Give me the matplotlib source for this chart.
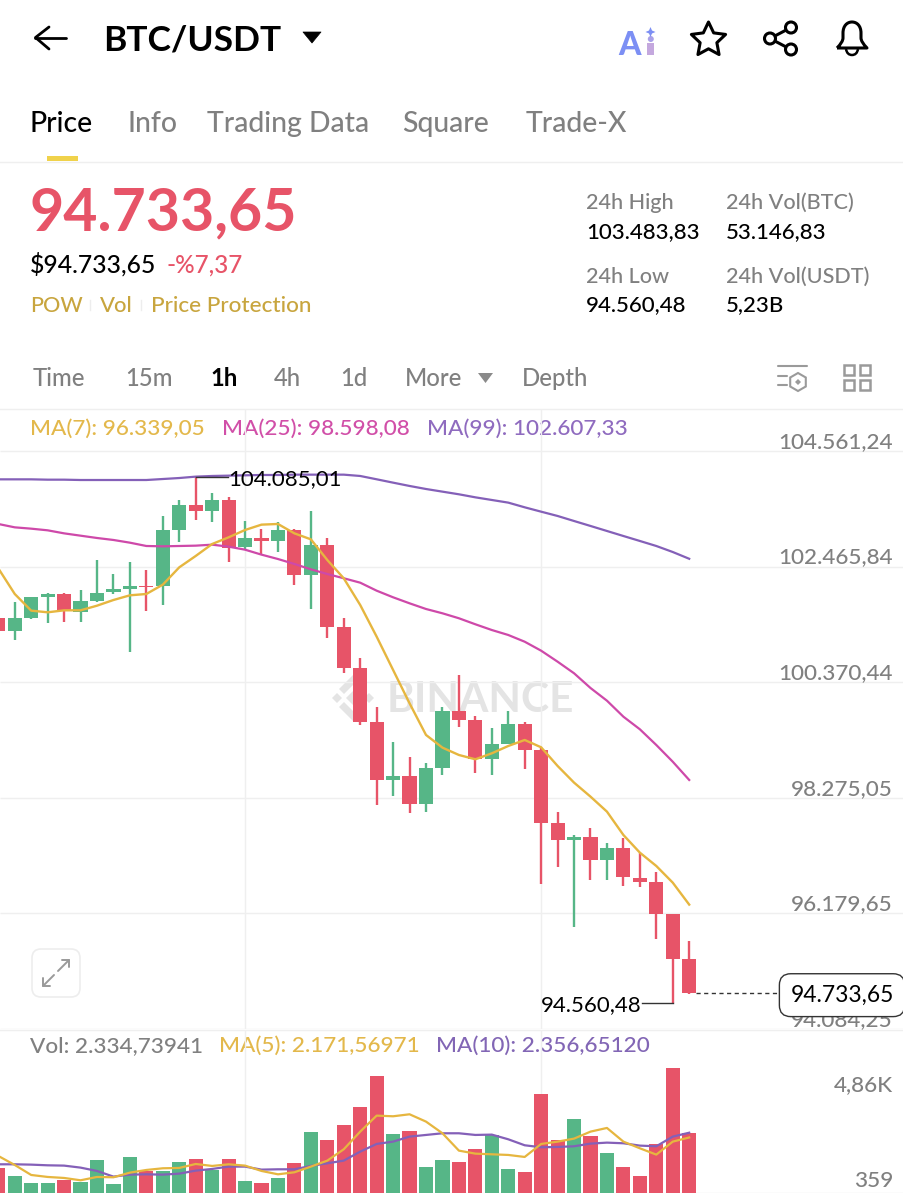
import numpy as np
import matplotlib
matplotlib.use("Agg")
import matplotlib.pyplot as plt
from matplotlib.patches import FancyBboxPatch, Polygon, Rectangle, Circle, PathPatch
from matplotlib.path import Path

plt.rcParams["font.family"] = ["Lato", "DejaVu Sans"]

# candles
opens = [101528, 101292, 101540, 101914, 101969, 101643, 101842, 101999, 102059, 102120, 102114,
         103129, 103582, 103467, 103673, 102815, 102984, 102930, 103135, 102319, 102863, 101371,
         100622, 99655, 98592, 98670, 98163, 98815, 99843, 99679, 98973, 99250, 99613, 99136,
         97818, 97516, 97559, 97148, 97365, 96828, 96743, 96163, 95347]
closes = [101298, 101528, 101908, 101963, 101667, 101842, 101993, 102053, 102120, 102090, 103123,
          103582, 103467, 103673, 102809, 102978, 102930, 103129, 102319, 102857, 101377, 100628,
          99655, 98592, 98670, 98157, 98809, 99843, 99685, 98973, 99244, 99613, 99136, 97818,
          97516, 97559, 97148, 97365, 96840, 96749, 96163, 95353, 94733.65]
highs = [101528, 101830, 101908, 101981, 101981, 102035, 102591, 102325, 102555, 102398, 103389,
         103667, 104085.01, 103800, 103721, 103286, 103141, 103268, 103153, 103467, 102990, 101528,
         100803, 99915, 99287, 99021, 98900, 99927, 100495, 99764, 99540, 99855, 99643, 99172,
         98024, 97607, 97734, 97462, 97547, 97281, 96936, 96163, 95686]
lows = [101298, 101135, 101510, 101437, 101455, 101461, 101824, 101969, 100918, 101655, 101763,
        102905, 103304, 103268, 102543, 102766, 102694, 102730, 102138, 101691, 101177, 100543,
        99601, 98139, 98308, 97994, 98018, 98695, 99565, 98719, 98695, 99250, 98797, 96707,
        97015, 95927, 96779, 96785, 96677, 96664, 95710, 94560.48, 94719]

ma7 = [102434, 101969, 101667, 101637, 101673, 101673, 101757, 101860, 101945, 101969, 102138,
       102452, 102658, 102875, 102996, 103129, 103226, 103238, 103068, 102960, 102585, 102253,
       101770, 101196, 100592, 99988, 99414, 99184, 99051, 98973, 99081, 99214, 99323, 99190,
       98852, 98550, 98296, 98024, 97601, 97281, 97039, 96737, 96339.05]
ma25 = [103238, 103177, 103153, 103123, 103068, 103026, 102984, 102948, 102899, 102839, 102833,
        102839, 102845, 102863, 102827, 102772, 102682, 102603, 102513, 102416, 102331, 102254,
        102174, 102029, 101909, 101800, 101697, 101619, 101529, 101420, 101316, 101226, 101104,
        100941, 100742, 100532, 100265, 100035, 99745, 99517, 99232, 98929, 98598.08]
ma99 = [104047, 104047, 104047, 104041, 104041, 104035, 104035, 104035, 104035, 104035, 104053,
        104071, 104096, 104108, 104114, 104120, 104126, 104126, 104132, 104132, 104132, 104132,
        104108, 104048, 103987, 103927, 103872, 103824, 103776, 103721, 103673, 103625, 103540,
        103461, 103383, 103292, 103202, 103111, 103020, 102930, 102839, 102730, 102607.33]

volumes = [973, 674, 415, 389, 519, 454, 1297, 350, 1427, 869, 882, 1219, 1323, 908, 1336, 480,
           402, 584, 1180, 2399, 2075, 2659, 3372, 4578, 2296, 2412, 1012, 1297, 1206, 1738, 2283,
           960, 817, 3852, 2075, 2905, 2244, 1582, 1038, 674, 1920, 4864, 2334.74]
vol_ma5 = [1453, 1102, 713, 636, 597, 506, 636, 623, 804, 908, 973, 986, 1141, 1064, 1128, 1077,
           869, 739, 817, 1038, 1271, 1712, 2399, 3022, 2996, 3074, 2789, 2335, 1660, 1543, 1517,
           1492, 1414, 1920, 2010, 2127, 2399, 2542, 2010, 1751, 1505, 2010, 2171.57]
vol_ma10 = [1128, 1128, 1115, 1089, 1077, 999, 869, 649, 726, 739, 726, 765, 882, 947, 1038, 1038,
            921, 934, 934, 1064, 1167, 1271, 1621, 1920, 2010, 2205, 2270, 2335, 2335, 2270, 2283,
            2101, 1868, 1790, 1803, 1829, 1933, 1971, 1946, 1855, 1829, 2205, 2356.65]

price_ticks = [104561.24, 102465.84, 100370.44, 98275.05, 96179.65, 94084.25]
price_labels = ["104.561,24", "102.465,84", "100.370,44", "98.275,05", "96.179,65", "94.084,25"]

RED = "#E75468"
GREEN = "#56B687"
YELLOW = "#E6B63F"
PINK = "#CE49A9"
PURPLE = "#8460B8"
GRID = "#EFEFEF"
GREY = "#808080"

fig = plt.figure(figsize=(9.04, 12), dpi=100, facecolor="white")

# pixel canvas for the app screen around the chart
bg = fig.add_axes([0, 0, 1, 1], zorder=0)
bg.set_xlim(0, 904)
bg.set_ylim(1200, 0)
bg.set_axis_off()


def label(x, y, s, size=16.2, color="black", weight="medium", ha="left"):
    bg.text(x, y, s, fontsize=size, color=color, fontweight=weight, ha=ha, va="baseline")


def stroke(xs, ys, color="black", lw=2.0):
    bg.plot(xs, ys, color=color, lw=lw, solid_capstyle="round", solid_joinstyle="round")


# header
stroke([35, 66], [37.5, 37.5])
stroke([49, 35.5, 49], [27, 37.5, 49])
label(103, 50, "BTC/USDT", size=25.5, weight="bold")
bg.add_patch(Polygon([(303, 32), (321, 32), (312, 43)], fc="black", ec="black", lw=0.5, joinstyle="round"))

label(618, 55, "A", size=23, color="#7C8FF4", weight="black")
bg.add_patch(Rectangle((647.5, 43), 6.5, 12, fc="#C4A8DE", ec="none"))
bg.add_patch(Circle((650.8, 39), 3, fc="#A9A0E8", ec="none"))
bg.add_patch(Polygon([(650.5, 27), (652, 30.5), (655.5, 32), (652, 33.5), (650.5, 37), (649, 33.5), (645.5, 32), (649, 30.5)],
                     fc="#7C8FF4", ec="none"))

ang = np.pi / 2 + np.arange(10) * np.pi / 5
rad = np.where(np.arange(10) % 2 == 0, 18, 8.8)
bg.add_patch(Polygon(np.c_[708.5 + rad * np.cos(ang), 40 - rad * np.sin(ang)], fc="none", ec="black", lw=2.2, joinstyle="round"))

stroke([791, 770, 791], [27.5, 38.5, 49.5], lw=2.2)
for cx, cy in [(770, 38.5), (791, 27.5), (791, 49.5)]:
    bg.add_patch(Circle((cx, cy), 5.5, fc="white", ec="black", lw=2.2, zorder=3))

bell = Path([(837, 48), (843, 42), (843, 38), (843, 33), (843, 26), (847, 22), (852, 22), (857, 22),
             (861, 26), (861, 33), (861, 38), (861, 42), (867, 48), (837, 48)],
            [Path.MOVETO, Path.CURVE3, Path.CURVE3, Path.LINETO, Path.CURVE4, Path.CURVE4, Path.CURVE4,
             Path.CURVE4, Path.CURVE4, Path.CURVE4, Path.LINETO, Path.CURVE3, Path.CURVE3, Path.LINETO])
bg.add_patch(PathPatch(bell, fc="none", ec="black", lw=2.2, joinstyle="round"))
clapper = Path([(846, 49), (847, 55), (852, 55), (857, 55), (858, 49)],
               [Path.MOVETO, Path.CURVE3, Path.CURVE3, Path.CURVE3, Path.CURVE3])
bg.add_patch(PathPatch(clapper, fc="none", ec="black", lw=1.8))

# tabs
label(30, 132, "Price", size=20.4)
for tx, name in [(127, "Info"), (207, "Trading Data"), (402, "Square"), (526, "Trade-X")]:
    label(tx, 132, name, size=20.4, color=GREY)
bg.add_patch(Rectangle((47, 156), 31, 5, fc="#F0D24B", ec="none"))
bg.plot([0, 904], [161.5, 161.5], color=GRID, lw=1)

# price block
label(30, 230, "94.733,65", size=42.5, color=RED, weight="bold")
label(30, 273, "$94.733,65", size=17.8)
label(167, 273, "-%7,37", size=17.5, color=RED)
label(30, 312, "POW", size=15.5, color="#C8A53E")
label(100, 312, "Vol", size=15.8, color="#C8A53E")
label(151, 312, "Price Protection", size=16.2, color="#C8A53E")
bg.plot([90, 90], [300, 310], color="#EDEDED", lw=1)
bg.plot([141, 141], [300, 310], color="#EDEDED", lw=1)

label(586, 209, "24h High", size=15.6, color=GREY)
label(586, 238, "103.483,83", size=16)
label(726, 209, "24h Vol(BTC)", size=15.6, color=GREY)
label(726, 238, "53.146,83", size=16)
label(586, 283, "24h Low", size=15.6, color=GREY)
label(586, 311, "94.560,48", size=16)
label(726, 283, "24h Vol(USDT)", size=15.6, color=GREY)
label(726, 311, "5,23B", size=16)

# interval row
for tx, name in [(33, "Time"), (125, "15m"), (274, "4h"), (340, "1d"), (405, "More"), (522, "Depth")]:
    label(tx, 386, name, size=17.2, color=GREY)
label(210, 386, "1h", size=17.2, weight="bold")
bg.add_patch(Polygon([(478, 373), (493, 373), (485.5, 383)], fc="#8A8A8A", ec="none"))

ICON = "#9A9A9A"
stroke([778, 807], [366, 366], color=ICON, lw=1.5)
stroke([778, 787], [376, 376], color=ICON, lw=1.5)
stroke([778, 787], [385, 385], color=ICON, lw=1.5)
ang = np.pi / 2 + np.arange(6) * np.pi / 3
bg.add_patch(Polygon(np.c_[798 + 9 * np.cos(ang), 382 + 9 * np.sin(ang)], fc="none", ec=ICON, lw=1.5))
bg.add_patch(Polygon([(798, 379), (801, 382), (798, 385), (795, 382)], fc=ICON, ec="none"))
for sx, sy in [(844, 365), (860, 365), (844, 380), (860, 380)]:
    bg.add_patch(Rectangle((sx, sy), 10, 10, fc="none", ec=ICON, lw=1.8))

bg.plot([0, 904], [408.5, 408.5], color=GRID, lw=1)
bg.plot([0, 904], [1029.5, 1029.5], color=GRID, lw=1)

label(30, 435, "MA(7): 96.339,05", color="#E3B84B")
label(222, 435, "MA(25): 98.598,08", color="#D14FA8")
label(427, 435, "MA(99): 102.607,33", color="#8F6BBF")

label(30, 1052, "Vol: 2.334,73941", color=GREY)
label(219, 1052, "MA(5): 2.171,56971", color="#E3B84B")
label(436, 1052, "MA(10): 2.356,65120", color="#8266B5")
label(893, 1091, "4,86K", color=GREY, ha="right")
label(893, 1187, "359", color=GREY, ha="right")

# watermark behind the candles
WM = "#E4E4E4"
for cx, cy, r in [(353, 698, 7), (337, 698, 5), (369, 698, 5)]:
    bg.add_patch(Polygon([(cx, cy - r), (cx + r, cy), (cx, cy + r), (cx - r, cy)], fc=WM, ec="none"))
bg.add_patch(Polygon([(353, 675), (367, 689), (362, 694), (353, 685), (344, 694), (339, 689)], fc=WM, ec="none"))
bg.add_patch(Polygon([(353, 721), (367, 707), (362, 702), (353, 711), (344, 702), (339, 707)], fc=WM, ec="none"))
label(387, 712, "BINANCE", size=30.5, color=WM, weight="bold")

# expand button
bg.add_patch(FancyBboxPatch((36, 953), 40, 40, boxstyle="round,pad=4,rounding_size=9", fc="white", ec="#EDEDED", lw=1.2))
stroke([58, 69], [971, 960], color="#9A9A9A", lw=1.4)
stroke([62, 69.5, 69.5], [960, 960, 967], color="#9A9A9A", lw=1.4)
stroke([54, 43], [975, 986], color="#9A9A9A", lw=1.4)
stroke([43, 43, 50.5], [978, 986, 986], color="#9A9A9A", lw=1.4)

# price chart
x = np.arange(len(opens))
ax = fig.add_axes([0, (1200 - 1029) / 1200, 1, (1029 - 409) / 1200], zorder=1)
ax.set_xlim(1.7 / 16.45, 905.7 / 16.45)
ax.set_ylim(94084.25, 105322)
ax.set_axis_off()

ax.hlines(price_ticks, ax.get_xlim()[0], ax.get_xlim()[1], color=GRID, lw=1, zorder=0.5)
ax.axvline(15, color=GRID, lw=1, zorder=0.5)
ax.axvline(33, color=GRID, lw=1, zorder=0.5)

colors = [GREEN if c >= o else RED for o, c in zip(opens, closes)]
ax.vlines(x, lows, highs, colors=colors, lw=1.7, zorder=2)
ax.bar(x, np.abs(np.array(closes) - np.array(opens)), bottom=np.minimum(opens, closes),
       width=0.86, color=colors, zorder=2)

ax.plot(x, ma99, color=PURPLE, lw=1.6, zorder=3)
ax.plot(x, ma25, color=PINK, lw=1.6, zorder=3)
ax.plot(x, ma7, color=YELLOW, lw=1.7, zorder=3)

for val, name in zip(price_ticks, price_labels):
    ax.annotate(name, xy=(893 / 904, val), xycoords=ax.get_yaxis_transform(), xytext=(0, 2.2),
                textcoords="offset points", ha="right", va="baseline", fontsize=16.2, color=GREY,
                fontweight="medium", annotation_clip=False, zorder=4)

# high / low markers
hi = int(np.argmax(highs))
lo = int(np.argmin(lows))
ax.plot([hi, hi + 1.96], [highs[hi], highs[hi]], color="#333333", lw=1, zorder=4)
ax.text(hi + 1.96, highs[hi], "104.085,01", ha="left", va="center_baseline", fontsize=16, color="black", zorder=4)
ax.plot([lo - 1.87, lo], [lows[lo], lows[lo]], color="#333333", lw=1, zorder=4)
ax.text(lo - 1.87, lows[lo], "94.560,48", ha="right", va="center_baseline", fontsize=16, color="black", zorder=4)

# last price
ax.plot([x[-1] + 0.4, 48], [closes[-1], closes[-1]], color="#333333", lw=1, ls=(0, (3, 2.5)), zorder=4)
ax.text(842 / 904, closes[-1], "94.733,65", transform=ax.get_yaxis_transform(), ha="center", va="center_baseline",
        fontsize=16.4, color="black", zorder=6,
        bbox=dict(boxstyle="round,pad=0.48,rounding_size=0.5", fc="white", ec="#333333", lw=1))

# volume chart
axv = fig.add_axes([0, (1200 - 1193.3) / 1200, 1, (1193.3 - 1030) / 1200], zorder=1)
axv.set_xlim(ax.get_xlim())
axv.set_ylim(0, 163.3 * 38.9)
axv.set_axis_off()
axv.axvline(15, color=GRID, lw=1, zorder=0.5)
axv.axvline(33, color=GRID, lw=1, zorder=0.5)
axv.axhline(0, color=GRID, lw=1, zorder=0.5)
axv.bar(x, volumes, width=0.86, color=colors, zorder=2)
axv.plot(x, vol_ma10, color=PURPLE, lw=1.6, zorder=3)
axv.plot(x, vol_ma5, color=YELLOW, lw=1.6, zorder=3)

fig.savefig("out.png", dpi=100)
